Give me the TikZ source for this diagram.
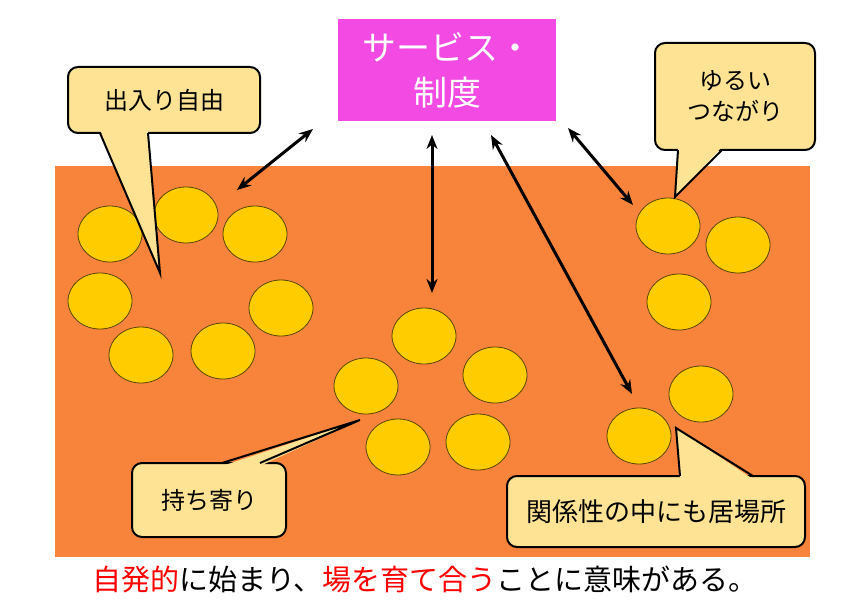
\documentclass[tikz,border=0pt]{standalone}
\usepackage{fontspec}
\setmainfont{Noto Sans CJK JP}
\usetikzlibrary{shapes.geometric,arrows.meta}
\definecolor{bgorange}{HTML}{F7843A}
\definecolor{dotfill}{HTML}{FFCC00}
\definecolor{dotline}{HTML}{5A4500}
\definecolor{callfill}{HTML}{FFE394}
\definecolor{titlefill}{HTML}{F24AE2}
\definecolor{accent}{HTML}{FF0000}
\tikzset{
  dot/.style={ellipse, draw=dotline, line width=0.8pt, fill=dotfill, minimum width=64pt, minimum height=56pt, inner sep=0pt},
  callbox/.style={draw=black, line width=2pt, fill=callfill, rounded corners=10pt, inner sep=0pt, font=\fontsize{24}{31}\selectfont, align=center},
  tailfill/.style={fill=callfill},
  tailline/.style={draw=black, line width=2pt, line join=miter},
  link/.style={line width=3pt, {Stealth[length=14pt,width=11pt]}-{Stealth[length=14pt,width=11pt]}},
}
\begin{document}
\begin{tikzpicture}[x=1pt,y=-1pt]
\useasboundingbox (0,0) rectangle (858,604);
\fill[white] (0,0) rectangle (858,604);
% orange field
\fill[bgorange] (55,166) rectangle (810,557);
% title box
\node[fill=titlefill, minimum width=218pt, minimum height=102pt, inner sep=0pt, text=white, align=center,
      font=\fontsize{34}{45}\selectfont] (title) at (447,70) {サービス・\\制度};
% circles left group
\node[dot] (l1) at (110,234) {};
\node[dot] (l2) at (186,215) {};
\node[dot] (l3) at (255,234) {};
\node[dot] (l4) at (100,301) {};
\node[dot] (l5) at (281,308) {};
\node[dot] (l6) at (141,355) {};
\node[dot] (l7) at (223,351) {};
% middle group
\node[dot] (m1) at (424,336) {};
\node[dot] (m2) at (366,386) {};
\node[dot] (m3) at (495,375) {};
\node[dot] (m4) at (398,447) {};
\node[dot] (m5) at (478,442) {};
% right group
\node[dot] (r1) at (668,226) {};
\node[dot] (r2) at (738,245) {};
\node[dot] (r3) at (679,302) {};
\node[dot] (r4) at (701,394) {};
\node[dot] (r5) at (639,436) {};
% arrow end points
\coordinate (a1s) at (313,129);
\coordinate (a1e) at (237,190);
\coordinate (a2s) at (432,135);
\coordinate (a2e) at (432,293);
\coordinate (a3s) at (491,135);
\coordinate (a3e) at (632,394);
\coordinate (a4s) at (568,128);
\coordinate (a4e) at (633,205);
\draw[link] (a1s) -- (a1e);
\draw[link] (a2s) -- (a2e);
\draw[link] (a3s) -- (a3e);
\draw[link] (a4s) -- (a4e);
% callout 1
\node[callbox, minimum width=192pt, minimum height=66pt] (k1) at (164,100) {出入り自由};
\coordinate (k1a) at (100,133);
\coordinate (k1b) at (148,133);
\coordinate (k1t) at (160,273);
\fill[tailfill] ([yshift=3pt]k1a) -- (k1t) -- ([yshift=3pt]k1b) -- cycle;
\draw[tailline] (k1a) -- (k1t) -- (k1b);
% callout 2
\node[callbox, minimum width=160pt, minimum height=107pt] (k2) at (735,96.5) {ゆるい\\つながり};
\coordinate (k2a) at (678,150);
\coordinate (k2b) at (722,150);
\coordinate (k2t) at (675,197);
\fill[tailfill] ([yshift=3pt]k2a) -- (k2t) -- ([yshift=3pt]k2b) -- cycle;
\draw[tailline] (k2a) -- (k2t) -- (k2b);
% callout 3
\node[callbox, minimum width=154pt, minimum height=74pt] (k3) at (209,500) {持ち寄り};
\coordinate (k3a) at (222,463);
\coordinate (k3b) at (260,463);
\coordinate (k3t) at (360,420);
\fill[tailfill] ([yshift=-3pt]k3a) -- (k3t) -- ([yshift=-3pt]k3b) -- cycle;
\draw[tailline] (k3a) -- (k3t) -- (k3b);
% callout 4
\node[callbox, minimum width=298pt, minimum height=71pt, font=\fontsize{26}{31}\selectfont] (k4) at (656,511.5) {関係性の中にも居場所};
\coordinate (k4a) at (680,476);
\coordinate (k4b) at (753,476);
\coordinate (k4t) at (676,428);
\fill[tailfill] ([yshift=-3pt]k4a) -- (k4t) -- ([yshift=-3pt]k4b) -- cycle;
\draw[tailline] (k4a) -- (k4t) -- (k4b);
% bottom sentence
\node[font=\fontsize{29}{32}\selectfont, inner sep=0pt] (caption) at (425,579)
  {\textcolor{accent}{自発的}に始まり、\textcolor{accent}{場を育て合う}ことに意味がある。};
\end{tikzpicture}
\end{document}
